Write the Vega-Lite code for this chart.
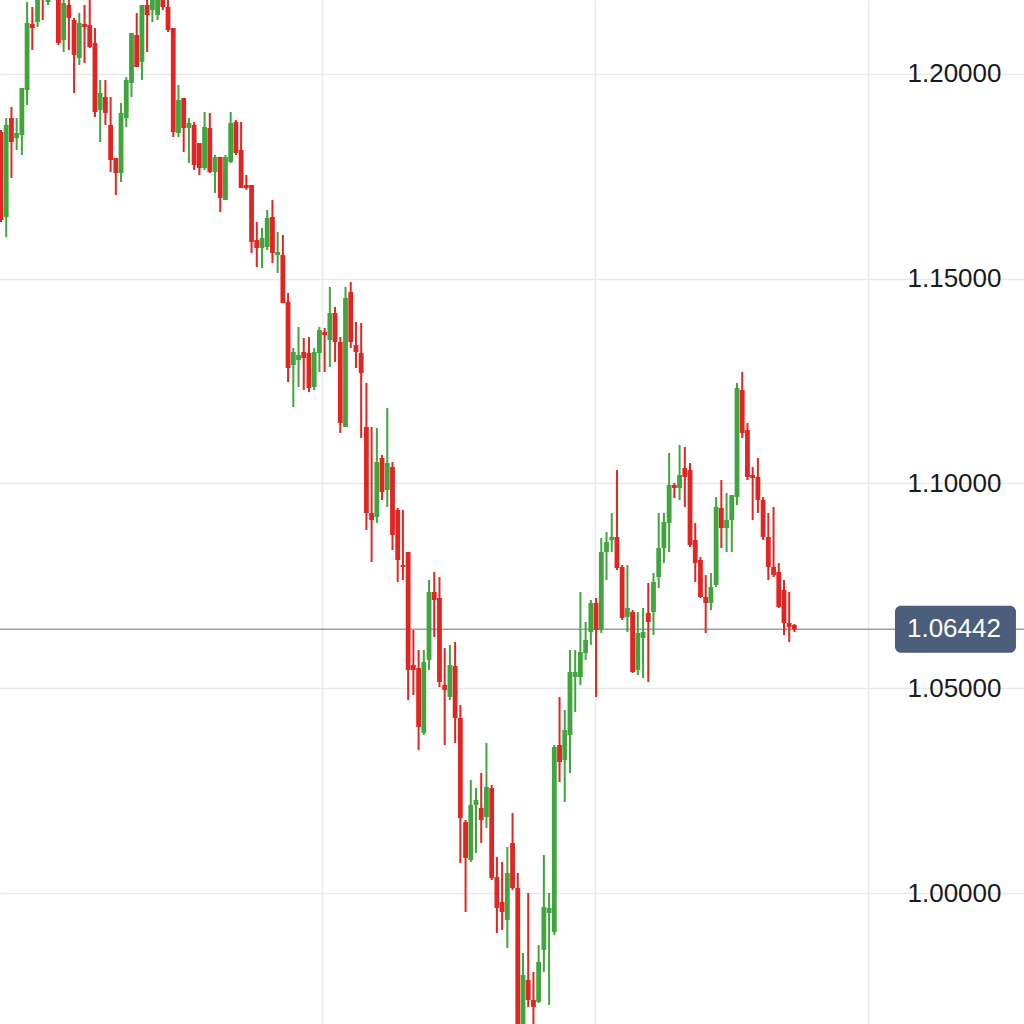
{
"$schema":"https://vega.github.io/schema/vega-lite/v6.json",
"width":1024,"height":1024,"autosize":"none","padding":0,"background":"white",
"config":{"view":{"stroke":null}},
"datasets":{
"candles":[
{"i":0,"o":1.18584,"h":1.18632,"l":1.16386,"c":1.16435},
{"i":1,"o":1.16508,"h":1.18925,"l":1.16019,"c":1.18754},
{"i":2,"o":1.18925,"h":1.19194,"l":1.17460,"c":1.18339},
{"i":3,"o":1.18437,"h":1.18925,"l":1.18144,"c":1.18559},
{"i":4,"o":1.18510,"h":1.19658,"l":1.18022,"c":1.19658},
{"i":5,"o":1.19609,"h":1.21758,"l":1.19243,"c":1.21245},
{"i":6,"o":1.21221,"h":1.21636,"l":1.20586,"c":1.21123},
{"i":7,"o":1.21270,"h":1.22173,"l":1.21148,"c":1.21929},
{"i":8,"o":1.22100,"h":1.22295,"l":1.21319,"c":1.21856},
{"i":9,"o":1.21758,"h":1.22418,"l":1.21685,"c":1.22173},
{"i":10,"o":1.22418,"h":1.22662,"l":1.21880,"c":1.22002},
{"i":11,"o":1.21880,"h":1.22051,"l":1.20708,"c":1.20757},
{"i":12,"o":1.20830,"h":1.21807,"l":1.20537,"c":1.21734},
{"i":13,"o":1.21685,"h":1.21856,"l":1.20586,"c":1.21367},
{"i":14,"o":1.21319,"h":1.21367,"l":1.19536,"c":1.20464},
{"i":15,"o":1.20391,"h":1.21490,"l":1.20220,"c":1.21245},
{"i":16,"o":1.21221,"h":1.21685,"l":1.20269,"c":1.21148},
{"i":17,"o":1.21196,"h":1.21807,"l":1.20635,"c":1.20659},
{"i":18,"o":1.20757,"h":1.21123,"l":1.18950,"c":1.19072},
{"i":19,"o":1.19121,"h":1.19853,"l":1.18339,"c":1.19536},
{"i":20,"o":1.19438,"h":1.19853,"l":1.18754,"c":1.19048},
{"i":21,"o":1.18754,"h":1.19438,"l":1.17607,"c":1.17900},
{"i":22,"o":1.17949,"h":1.17949,"l":1.17045,"c":1.17582},
{"i":23,"o":1.17582,"h":1.19292,"l":1.17363,"c":1.19048},
{"i":24,"o":1.18925,"h":1.19927,"l":1.18706,"c":1.19853},
{"i":25,"o":1.19780,"h":1.21001,"l":1.19438,"c":1.21001},
{"i":26,"o":1.20952,"h":1.21490,"l":1.20171,"c":1.20171},
{"i":27,"o":1.20293,"h":1.21685,"l":1.19853,"c":1.21685},
{"i":28,"o":1.21685,"h":1.21880,"l":1.20537,"c":1.21441},
{"i":29,"o":1.21563,"h":1.22002,"l":1.21270,"c":1.21880},
{"i":30,"o":1.21441,"h":1.21929,"l":1.21319,"c":1.21807},
{"i":31,"o":1.21807,"h":1.21954,"l":1.21563,"c":1.21636},
{"i":32,"o":1.21636,"h":1.21807,"l":1.21026,"c":1.21074},
{"i":33,"o":1.21123,"h":1.21123,"l":1.18461,"c":1.18584},
{"i":34,"o":1.18559,"h":1.19731,"l":1.18461,"c":1.19365},
{"i":35,"o":1.19414,"h":1.19414,"l":1.18095,"c":1.18681},
{"i":36,"o":1.18681,"h":1.18925,"l":1.17827,"c":1.18803},
{"i":37,"o":1.18754,"h":1.18828,"l":1.17656,"c":1.17778},
{"i":38,"o":1.18315,"h":1.18315,"l":1.17533,"c":1.17704},
{"i":39,"o":1.17704,"h":1.19072,"l":1.17656,"c":1.18706},
{"i":40,"o":1.18681,"h":1.19048,"l":1.17582,"c":1.17607},
{"i":41,"o":1.17607,"h":1.18022,"l":1.17094,"c":1.17973},
{"i":42,"o":1.17973,"h":1.17973,"l":1.16630,"c":1.16972},
{"i":43,"o":1.16923,"h":1.18022,"l":1.16923,"c":1.17973},
{"i":44,"o":1.17851,"h":1.19072,"l":1.17827,"c":1.18803},
{"i":45,"o":1.18828,"h":1.18877,"l":1.18022,"c":1.18071},
{"i":46,"o":1.18144,"h":1.18828,"l":1.17216,"c":1.17216},
{"i":47,"o":1.17289,"h":1.17533,"l":1.17167,"c":1.17216},
{"i":48,"o":1.17289,"h":1.17289,"l":1.15629,"c":1.15897},
{"i":49,"o":1.15946,"h":1.16386,"l":1.15287,"c":1.15751},
{"i":50,"o":1.15751,"h":1.16239,"l":1.15262,"c":1.15995},
{"i":51,"o":1.15775,"h":1.16679,"l":1.15702,"c":1.16483},
{"i":52,"o":1.16508,"h":1.16923,"l":1.15385,"c":1.15629},
{"i":53,"o":1.15580,"h":1.16142,"l":1.15140,"c":1.15653},
{"i":54,"o":1.15580,"h":1.16068,"l":1.14408,"c":1.14408},
{"i":55,"o":1.14432,"h":1.14652,"l":1.12479,"c":1.12820},
{"i":56,"o":1.12894,"h":1.13309,"l":1.11868,"c":1.13211},
{"i":57,"o":1.13016,"h":1.13822,"l":1.12356,"c":1.13138},
{"i":58,"o":1.13211,"h":1.13553,"l":1.12283,"c":1.13065},
{"i":59,"o":1.13187,"h":1.13577,"l":1.12234,"c":1.12332},
{"i":60,"o":1.12356,"h":1.13309,"l":1.12283,"c":1.13211},
{"i":61,"o":1.13187,"h":1.13822,"l":1.12723,"c":1.13748},
{"i":62,"o":1.13700,"h":1.13797,"l":1.12723,"c":1.13626},
{"i":63,"o":1.13504,"h":1.14798,"l":1.12845,"c":1.14164},
{"i":64,"o":1.14164,"h":1.14310,"l":1.12967,"c":1.13455},
{"i":65,"o":1.13455,"h":1.13577,"l":1.11233,"c":1.11477},
{"i":66,"o":1.11380,"h":1.14798,"l":1.11380,"c":1.14530},
{"i":67,"o":1.14676,"h":1.14921,"l":1.13309,"c":1.13455},
{"i":68,"o":1.13382,"h":1.13944,"l":1.12820,"c":1.13211},
{"i":69,"o":1.13187,"h":1.13919,"l":1.11111,"c":1.12698},
{"i":70,"o":1.11380,"h":1.12454,"l":1.08864,"c":1.09280},
{"i":71,"o":1.09280,"h":1.11380,"l":1.08083,"c":1.09109},
{"i":72,"o":1.09182,"h":1.11355,"l":1.09035,"c":1.10525},
{"i":73,"o":1.10623,"h":1.10696,"l":1.09597,"c":1.09792},
{"i":74,"o":1.09841,"h":1.11844,"l":1.09426,"c":1.10501},
{"i":75,"o":1.10403,"h":1.10525,"l":1.08376,"c":1.08742},
{"i":76,"o":1.09353,"h":1.09402,"l":1.07595,"c":1.08132},
{"i":77,"o":1.08010,"h":1.09353,"l":1.07643,"c":1.07961},
{"i":78,"o":1.08327,"h":1.08327,"l":1.04713,"c":1.05446},
{"i":79,"o":1.05568,"h":1.06422,"l":1.04835,"c":1.05446},
{"i":80,"o":1.05494,"h":1.05934,"l":1.03492,"c":1.04054},
{"i":81,"o":1.03908,"h":1.05934,"l":1.03858,"c":1.05641},
{"i":82,"o":1.05690,"h":1.07643,"l":1.05446,"c":1.07350},
{"i":83,"o":1.07350,"h":1.07839,"l":1.06251,"c":1.07155},
{"i":84,"o":1.07204,"h":1.07717,"l":1.05030,"c":1.05153},
{"i":85,"o":1.05079,"h":1.05983,"l":1.03614,"c":1.04957},
{"i":86,"o":1.04786,"h":1.06056,"l":1.04713,"c":1.05568},
{"i":87,"o":1.05543,"h":1.06130,"l":1.03663,"c":1.04273},
{"i":88,"o":1.04273,"h":1.04591,"l":1.00733,"c":1.01831},
{"i":89,"o":1.01734,"h":1.01783,"l":0.99536,"c":1.00855},
{"i":90,"o":1.00806,"h":1.02759,"l":1.00757,"c":1.02149},
{"i":91,"o":1.02149,"h":1.02564,"l":1.00977,"c":1.02271},
{"i":92,"o":1.02076,"h":1.02930,"l":1.01221,"c":1.01783},
{"i":93,"o":1.01856,"h":1.03663,"l":1.01587,"c":1.02588},
{"i":94,"o":1.02564,"h":1.02637,"l":1.00317,"c":1.00366},
{"i":95,"o":1.00391,"h":1.00879,"l":0.99023,"c":0.99634},
{"i":96,"o":0.99780,"h":1.00757,"l":0.99096,"c":0.99536},
{"i":97,"o":0.99341,"h":1.01123,"l":0.98657,"c":1.00488},
{"i":98,"o":1.01221,"h":1.01954,"l":1.00073,"c":1.00122},
{"i":99,"o":1.00122,"h":1.00488,"l":0.96410,"c":0.96654},
{"i":100,"o":0.96654,"h":0.98535,"l":0.96410,"c":0.97997},
{"i":101,"o":0.97875,"h":1.00000,"l":0.97216,"c":0.97387},
{"i":102,"o":0.97387,"h":0.98071,"l":0.96654,"c":0.97216},
{"i":103,"o":0.97338,"h":0.98730,"l":0.97314,"c":0.98315},
{"i":104,"o":0.98608,"h":1.00928,"l":0.98071,"c":0.99658},
{"i":105,"o":0.99512,"h":1.00000,"l":0.97265,"c":0.99634},
{"i":106,"o":0.99048,"h":1.03614,"l":0.98974,"c":1.03565},
{"i":107,"o":1.03614,"h":1.04786,"l":1.02711,"c":1.03199},
{"i":108,"o":1.03248,"h":1.04469,"l":1.02222,"c":1.03980},
{"i":109,"o":1.03858,"h":1.05934,"l":1.02930,"c":1.05397},
{"i":110,"o":1.05275,"h":1.05934,"l":1.04420,"c":1.05397},
{"i":111,"o":1.05275,"h":1.07350,"l":1.05079,"c":1.05885},
{"i":112,"o":1.05861,"h":1.06618,"l":1.05690,"c":1.06178},
{"i":113,"o":1.06374,"h":1.07155,"l":1.06056,"c":1.07082},
{"i":114,"o":1.07082,"h":1.07204,"l":1.04786,"c":1.06422},
{"i":115,"o":1.06422,"h":1.08669,"l":1.06349,"c":1.08327},
{"i":116,"o":1.08327,"h":1.08816,"l":1.07643,"c":1.08571},
{"i":117,"o":1.08620,"h":1.09280,"l":1.08327,"c":1.08693},
{"i":118,"o":1.08693,"h":1.10330,"l":1.07888,"c":1.07936},
{"i":119,"o":1.07961,"h":1.08010,"l":1.06667,"c":1.06715},
{"i":120,"o":1.06740,"h":1.08010,"l":1.06374,"c":1.06960},
{"i":121,"o":1.06862,"h":1.06911,"l":1.05372,"c":1.05397},
{"i":122,"o":1.05446,"h":1.06862,"l":1.05323,"c":1.06349},
{"i":123,"o":1.06227,"h":1.06960,"l":1.05250,"c":1.06374},
{"i":124,"o":1.06838,"h":1.07570,"l":1.05153,"c":1.06618},
{"i":125,"o":1.06862,"h":1.07814,"l":1.06300,"c":1.07595},
{"i":126,"o":1.07717,"h":1.09280,"l":1.07448,"c":1.08425},
{"i":127,"o":1.08425,"h":1.09280,"l":1.08059,"c":1.09060},
{"i":128,"o":1.09035,"h":1.10745,"l":1.08327,"c":1.09963},
{"i":129,"o":1.09963,"h":1.10012,"l":1.09646,"c":1.09890},
{"i":130,"o":1.09890,"h":1.10940,"l":1.09597,"c":1.10207},
{"i":131,"o":1.10378,"h":1.10891,"l":1.09426,"c":1.10159},
{"i":132,"o":1.10330,"h":1.10501,"l":1.08449,"c":1.08498},
{"i":133,"o":1.08620,"h":1.09035,"l":1.07595,"c":1.08059},
{"i":134,"o":1.08132,"h":1.08205,"l":1.07204,"c":1.07228},
{"i":135,"o":1.07228,"h":1.07765,"l":1.06349,"c":1.07082},
{"i":136,"o":1.07082,"h":1.07814,"l":1.06911,"c":1.07472},
{"i":137,"o":1.07521,"h":1.09670,"l":1.07472,"c":1.09426},
{"i":138,"o":1.09402,"h":1.10085,"l":1.08425,"c":1.08913},
{"i":139,"o":1.08913,"h":1.09768,"l":1.08327,"c":1.09109},
{"i":140,"o":1.09109,"h":1.09719,"l":1.08327,"c":1.09719},
{"i":141,"o":1.09670,"h":1.12454,"l":1.09475,"c":1.12332},
{"i":142,"o":1.12283,"h":1.12723,"l":1.11111,"c":1.11233},
{"i":143,"o":1.11306,"h":1.11477,"l":1.10085,"c":1.10159},
{"i":144,"o":1.10207,"h":1.10403,"l":1.09109,"c":1.10134},
{"i":145,"o":1.10159,"h":1.10623,"l":1.09280,"c":1.09597},
{"i":146,"o":1.09597,"h":1.09670,"l":1.08620,"c":1.08693},
{"i":147,"o":1.08693,"h":1.09280,"l":1.07643,"c":1.07961},
{"i":148,"o":1.07961,"h":1.09426,"l":1.07717,"c":1.07765},
{"i":149,"o":1.07839,"h":1.08059,"l":1.06960,"c":1.06984},
{"i":150,"o":1.07399,"h":1.07643,"l":1.06300,"c":1.06593},
{"i":151,"o":1.06593,"h":1.07350,"l":1.06130,"c":1.06496},
{"i":152,"o":1.06544,"h":1.06569,"l":1.06374,"c":1.06442}
],
"last":[{"price":1.06442,"label":"1.06442"}]
},
"encoding":{
"x":{"type":"quantitative","scale":{"domain":[-0.19,195.98],"nice":false,"zero":false,"padding":0},
"axis":{"orient":"bottom","values":[61.59,113.89,166.19],"grid":true,"gridColor":"#e9e9e9","gridWidth":1.5,"labels":false,"ticks":false,"domain":false,"title":null}},
"y":{"type":"quantitative","scale":{"domain":[0.96801,1.21807],"nice":false,"zero":false,"padding":0},
"axis":{"orient":"right","values":[1.0,1.05,1.1,1.15,1.2],"format":".5f","grid":true,"gridColor":"#e9e9e9","gridWidth":1.5,"ticks":false,"tickSize":0,"domain":false,"labelPadding":-117,"labelAlign":"left","labelBaseline":"middle","labelFontSize":26,"labelFont":"Liberation Sans","labelColor":"#1a1a1a","title":null}}
},
"layer":[
{"data":{"name":"last"},"mark":{"type":"rule","color":"#9a9fa8","strokeWidth":1.6},
 "encoding":{"y":{"field":"price","type":"quantitative"}}},
{"data":{"name":"candles"},"mark":{"type":"rule","strokeWidth":2,"clip":true},
 "encoding":{"x":{"field":"i","type":"quantitative"},"y":{"field":"h","type":"quantitative"},"y2":{"field":"l"},
 "color":{"condition":{"test":"datum.c >= datum.o","value":"#41a53d"},"value":"#e02522"}}},
{"data":{"name":"candles"},"mark":{"type":"bar","size":4.8,"clip":true},
 "encoding":{"x":{"field":"i","type":"quantitative"},"y":{"field":"o","type":"quantitative"},"y2":{"field":"c"},
 "color":{"condition":{"test":"datum.c >= datum.o","value":"#41a53d"},"value":"#e02522"}}},
{"data":{"name":"last"},"mark":{"type":"bar","size":47,"cornerRadius":6,"color":"#4b5e7c"},
 "encoding":{"x":{"datum":171.26,"type":"quantitative"},"x2":{"datum":194.44},"y":{"field":"price","type":"quantitative"}}},
{"data":{"name":"last"},"mark":{"type":"text","align":"left","baseline":"middle","color":"white","fontSize":26,"font":"Liberation Sans"},
 "encoding":{"x":{"datum":173.56,"type":"quantitative"},"y":{"field":"price","type":"quantitative"},"text":{"field":"label"}}}
]
}
